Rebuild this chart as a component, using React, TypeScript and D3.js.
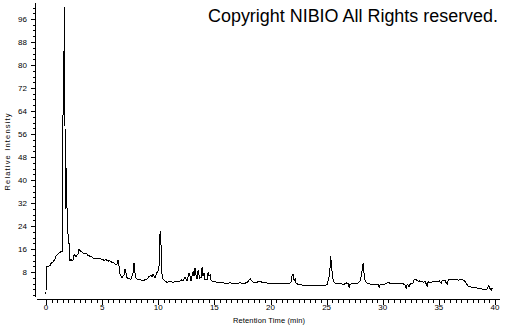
import React from "react";
import * as d3 from "d3";

const retentionTime: number[] = [
  0, 0.02, 0.18, 0.36, 0.45, 0.62, 0.8, 0.89, 1.07, 1.25, 1.34, 1.43, 1.47,
  1.5, 1.54, 1.59, 1.64, 1.66, 1.69, 1.72, 1.75, 1.78, 1.8, 1.83, 1.87, 1.93, 2.0, 2.08, 2.14,
  2.23, 2.32, 2.41, 2.5, 2.58, 2.67, 2.76, 2.85, 2.94, 3.03, 3.21, 3.39, 3.57, 3.74, 3.92,
  4.1, 4.28, 4.46, 4.63, 4.81, 4.99, 5.17, 5.35, 5.53, 5.7, 5.88, 6.06, 6.24, 6.33, 6.42,
  6.51, 6.6, 6.77, 6.95, 7.04, 7.13, 7.22, 7.4, 7.58, 7.75, 7.84, 7.93, 8.02, 8.2, 8.38,
  8.65, 8.82, 9.0, 9.18, 9.36, 9.45, 9.54, 9.71, 9.89, 10.03, 10.12, 10.16, 10.23, 10.27,
  10.34, 10.43, 10.61, 10.78, 11.05, 11.32, 11.59, 11.85, 12.03, 12.21, 12.39, 12.57,
  12.74, 12.83, 12.92, 13.1, 13.19, 13.28, 13.37, 13.46, 13.55, 13.68, 13.81, 13.9, 13.99,
  14.08, 14.17, 14.35, 14.44, 14.53, 14.62, 14.71, 14.88, 15.06, 15.24, 15.5, 15.95, 16.4,
  16.84, 17.29, 17.74, 18.0, 18.18, 18.27, 18.45, 18.72, 18.9, 19.07, 19.25, 19.6, 19.96,
  20.41, 20.86, 21.3, 21.66, 21.84, 21.93, 22.01, 22.1, 22.2, 22.28, 22.46, 22.9, 23.53,
  24.24, 24.87, 25.04, 25.18, 25.27, 25.36, 25.43, 25.49, 25.58, 25.71, 25.85, 26.2, 26.56,
  26.74, 26.92, 27.0, 27.09, 27.45, 27.81, 27.99, 28.12, 28.21, 28.28, 28.34, 28.43, 28.57,
  28.88, 29.23, 29.59, 29.68, 29.77, 30.21, 30.48, 30.84, 31.37, 31.82, 32.0, 32.09, 32.18,
  32.35, 32.44, 32.71, 32.8, 32.98, 33.16, 33.33, 33.6, 33.78, 33.96, 34.05, 34.22, 34.49,
  34.76, 35.03, 35.2, 35.29, 35.56, 35.74, 35.83, 36.01, 36.36, 36.72, 37.08, 37.25, 37.43,
  37.61, 37.97, 38.32, 38.68, 39.04, 39.3, 39.44, 39.53, 39.66, 39.75,
];

const relativeIntensity: number[] = [
  0.5, 9.7, 10, 10.2, 11, 11.5, 12.5, 13.5, 14.3, 14.8, 15.2, 14.9, 15.5,
  52, 78, 78, 100, 62, 62, 30, 45, 30, 44, 31, 30.5, 21.5, 21, 16, 12,
  12.5, 11.8, 12.3, 14, 13.8, 13.2, 14, 14.3, 15.8, 15.4, 15, 14.3, 14.6, 13.8, 13.5,
  13.2, 12.6, 12.9, 12.5, 12.6, 12.4, 12.1, 12.3, 11.8, 11.9, 11.3, 11.1, 10.5, 10.8, 12.2,
  10, 7.2, 6, 7, 9, 7.5, 6, 5.6, 5.5, 7.5, 11, 7.5, 6, 5.3, 5.4,
  4.8, 5.4, 5.5, 6.4, 7, 6.4, 7.3, 5.9, 7.8, 8.8, 12, 22, 22, 11,
  7, 5.4, 4.8, 4.4, 4.7, 4.4, 4.8, 4.5, 5.3, 5, 6.2, 5,
  7.6, 6.5, 5, 8.2, 6.5, 9.4, 6.8, 5.5, 8.8, 5.8, 6, 9.6, 6.5,
  7.6, 5.3, 5.4, 8, 6.6, 7, 5, 4.6, 4.8, 4.2, 4.4, 4.1, 4.2,
  4, 4.2, 4.1, 4.6, 5.7, 5.2, 4.4, 4.2, 4.7, 4.9, 4.3, 4.2, 4.0,
  4.1, 3.9, 4, 3.9, 4.5, 7, 7.2, 5, 5.5, 4.2, 3.7, 3.4, 3.2,
  3.3, 3.4, 3.6, 5.8, 7.2, 13.6, 10.5, 8, 5.3, 4.2, 4.1, 3.9, 3.7,
  4.2, 4, 2.6, 3.8, 3.9, 4.2, 5, 7.2, 10.4, 11.2, 7, 5, 4.2,
  3.8, 3.7, 3.7, 2.5, 3.6, 3.8, 4.3, 3.9, 4.1, 3.9, 3.5, 2.3, 3.8,
  2.8, 3.8, 4.2, 5.5, 5.3, 4.8, 4.9, 4.5, 4.6, 3.2, 4.6, 4.4, 4.6,
  4.5, 4.9, 4.1, 5, 4.9, 3.6, 5.2, 5.3, 5.4, 5.2, 5.3, 5.1, 4.2,
  3, 2.7, 2.5, 2.2, 1.9, 2.1, 3.2, 2.4, 1.7, 2.4,
];

const yTickLabels: number[] = [8, 16, 24, 32, 40, 48, 56, 64, 72, 80, 88, 96];
const xTickLabels: number[] = [0, 5, 10, 15, 20, 25, 30, 35, 40];

const W = 505;
const H = 325;
const FONT = "'Liberation Sans', Arial, sans-serif";

export default function App() {
  const x = d3.scaleLinear().domain([0, 40]).range([46, 495]);
  const y = d3.scaleLinear().domain([0, 100]).range([295, 7.5]);

  const points: [number, number][] = retentionTime.map((t, i) => [t, relativeIntensity[i]]);
  const line = d3
    .line<[number, number]>()
    .x((d) => x(d[0]))
    .y((d) => y(d[1]));

  const yMinor = d3.range(0, 101, 2);
  const xMinor = d3.range(0, 40.01, 0.5);
  const axisX = 35.5;
  const axisY = 299.5;

  return (
    <svg
      width={W}
      height={H}
      style={{ position: "absolute", left: 0, top: 0, background: "#fff" }}
      fontFamily={FONT}
    >
      <rect x={0} y={0} width={W} height={H} fill="#fff" />
      {/* y axis */}
      <line x1={axisX} x2={axisX} y1={3} y2={297} stroke="#000" strokeWidth={1} shapeRendering="crispEdges" />
      {yMinor.map((v) => {
        const major = v % 8 === 0 && v > 0;
        const yy = Math.round(y(v)) + 0.5;
        return (
          <line
            key={"ym" + v}
            x1={axisX}
            x2={axisX - (major ? 5 : 3)}
            y1={yy}
            y2={yy}
            stroke="#000"
            strokeWidth={1}
            shapeRendering="crispEdges"
          />
        );
      })}
      {yTickLabels.map((v) => (
        <text key={"yl" + v} x={27} y={y(v) + 2.8} fontSize={8} textAnchor="end" fill="#000">
          {v}
        </text>
      ))}
      <text
        transform={`translate(10,152) rotate(-90)`}
        fontSize={7.5}
        textAnchor="middle"
        fill="#000"
        textLength={77}
        lengthAdjust="spacing"
      >
        Relative Intensity
      </text>

      {/* x axis */}
      <line x1={37} x2={500} y1={axisY} y2={axisY} stroke="#000" strokeWidth={1} shapeRendering="crispEdges" />
      {xMinor.map((t) => {
        const major = t % 5 === 0;
        const xx = Math.round(x(t)) + 0.5;
        return (
          <line
            key={"xm" + t}
            x1={xx}
            x2={xx}
            y1={axisY}
            y2={axisY + (major ? 5 : 3)}
            stroke="#000"
            strokeWidth={1}
            shapeRendering="crispEdges"
          />
        );
      })}
      {xTickLabels.map((t) => (
        <text key={"xl" + t} x={x(t)} y={310} fontSize={8} textAnchor="middle" fill="#000">
          {t}
        </text>
      ))}
      <text x={269} y={323} fontSize={7.5} textAnchor="middle" fill="#000" textLength={72} lengthAdjust="spacing">
        Retention Time (min)
      </text>

      {/* trace */}
      <path d={line(points) || ""} fill="none" stroke="#000" strokeWidth={1} shapeRendering="crispEdges" />

      <text x={498} y={22} fontSize={17.5} textAnchor="end" fill="#000" textLength={290} lengthAdjust="spacingAndGlyphs">
        Copyright NIBIO All Rights reserved.
      </text>
    </svg>
  );
}
